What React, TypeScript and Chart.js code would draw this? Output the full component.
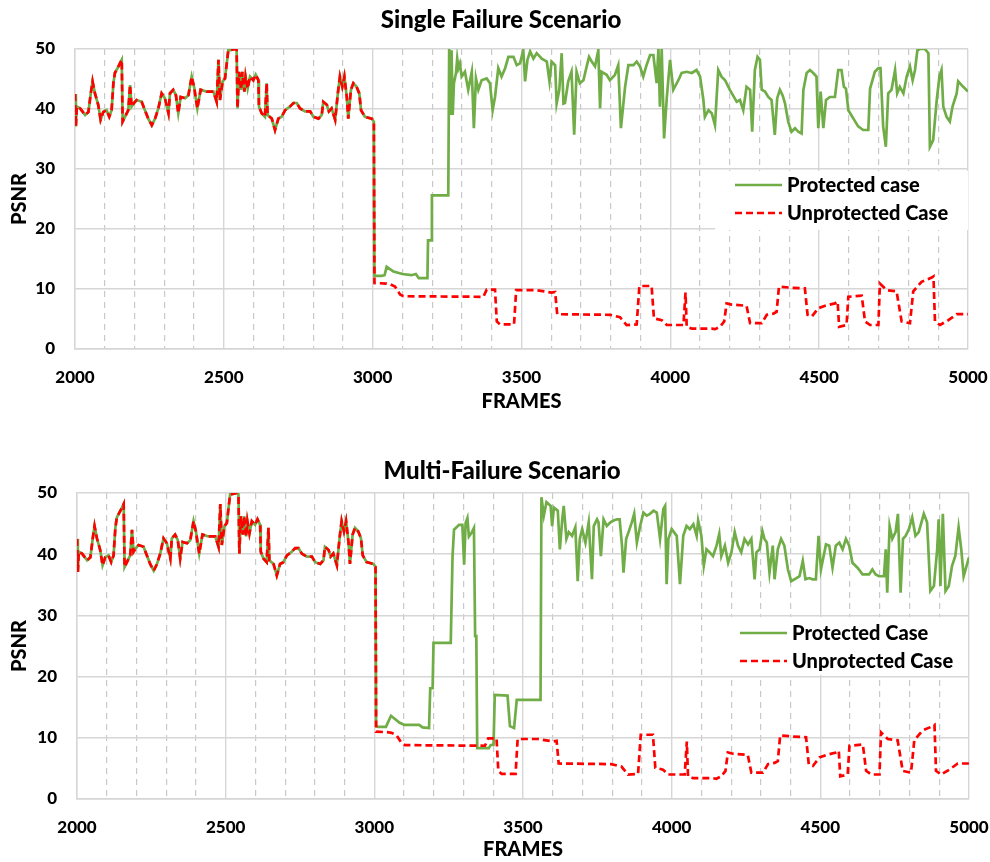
import React, { useEffect, useRef } from 'react';
import { Chart, registerables } from 'chart.js';

Chart.register(...registerables);

const FONT = 'Lato, "Open Sans", "DejaVu Sans", sans-serif';
const GREEN = '#70AD47';
const RED = '#FF0000';
const GRID = '#d6d6d6';
const MINOR_GRID = '#c9c9c9';

// ---- data: frames 2000-3000 (identical for both scenarios and both cases)
const preFrames = [
  2000, 2003, 2006, 2017, 2034, 2045, 2053, 2059, 2067, 2078,
  2086, 2095, 2106, 2115, 2123, 2129, 2134, 2146, 2157, 2160,
  2168, 2179, 2185, 2190, 2198, 2207, 2224, 2235, 2246, 2258,
  2269, 2280, 2291, 2302, 2314, 2319, 2330, 2339, 2347, 2355,
  2370, 2381, 2392, 2400, 2411, 2422, 2442, 2465, 2476, 2482,
  2487, 2496, 2504, 2515, 2521, 2538, 2543, 2546, 2551, 2558,
  2562, 2569, 2573, 2580, 2588, 2599, 2607, 2616, 2618, 2627,
  2638, 2644, 2647, 2661, 2672, 2683, 2694, 2706, 2722, 2734,
  2745, 2756, 2773, 2790, 2801, 2818, 2829, 2834, 2846, 2853,
  2862, 2874, 2883, 2890, 2898, 2905, 2913, 2918, 2927, 2935,
  2946, 2955, 2961, 2974, 2997, 3004,
];
const prePsnr = [
  42.5, 37.1, 40.4, 40.1, 39, 39.5, 42.6, 44.6, 42.6, 40.7,
  38.2, 39.5, 39.8, 38.7, 39.8, 44.3, 46, 47.1, 48.2, 37.9,
  38.7, 39.8, 44, 40.4, 41, 41.5, 41.2, 39.8, 38.4, 37.3,
  38.4, 40.1, 42.6, 41.8, 39.3, 42.6, 43.2, 42.3, 39.3, 42,
  41.8, 42.3, 45.4, 43.7, 40.1, 43.2, 42.9, 42.9, 41.2, 48.2,
  41.5, 44.6, 45.1, 49.8, 49.8, 50, 49.8, 40.1, 46.2, 43.2,
  46.2, 42.9, 45.4, 43.4, 45.4, 44.8, 45.7, 44.8, 40.4, 39.3,
  38.7, 44.3, 39, 38.4, 36.5, 38.4, 38.7, 39.8, 40.4, 41,
  41, 40.1, 39.6, 39.6, 38.7, 38.4, 39, 41.2, 40.7, 39.6,
  40.1, 38.2, 42.6, 45.4, 43.7, 45.4, 42, 38.4, 43.2, 44.3,
  43.7, 42.6, 39.8, 38.7, 38.4, 37.9,
];

// ---- unprotected case after the failure (same in both scenarios)
const unprotFrames = [
  3006, 3047, 3058, 3075, 3092, 3103, 3372, 3383, 3411, 3417,
  3428, 3475, 3482, 3551, 3601, 3613, 3620, 3797, 3831, 3853,
  3887, 3896, 3937, 3945, 3971, 3988, 4044, 4051, 4055, 4072,
  4139, 4150, 4167, 4181, 4189, 4206, 4256, 4268, 4307, 4324,
  4346, 4357, 4365, 4408, 4452, 4461, 4475, 4497, 4520, 4553,
  4562, 4567, 4592, 4598, 4643, 4654, 4671, 4699, 4704, 4727,
  4760, 4777, 4805, 4816, 4844, 4878, 4884, 4889, 4906, 4934,
  4962, 5000,
];
const unprotPsnr = [
  11, 10.9, 10.8, 10.4, 9.1, 8.8, 8.7, 9.9, 9.9, 4.6,
  4.1, 4.1, 9.8, 9.8, 9.4, 9.5, 5.8, 5.7, 5.3, 4.0,
  4.1, 10.5, 10.5, 5.1, 4.8, 4.0, 4.0, 9.4, 3.7, 3.4,
  3.4, 3.3, 3.7, 4.6, 7.6, 7.4, 7.2, 4.3, 4.3, 5.7,
  5.9, 6.2, 10.4, 10.2, 10.1, 5.7, 5.4, 6.8, 7.2, 7.6,
  7.9, 3.7, 4.0, 8.7, 8.9, 4.6, 4.0, 4.0, 10.9, 9.8,
  9.6, 4.6, 4.3, 9.6, 11.2, 11.9, 12.1, 4.6, 4.0, 4.8,
  5.8, 5.8,
];

// ---- protected case, single failure scenario
const singleProtFrames = [
  3006, 3030, 3040, 3047, 3070, 3100, 3130, 3145, 3155, 3184,
  3186, 3197, 3199, 3254, 3257, 3262, 3265, 3269, 3273, 3280,
  3284, 3288, 3293, 3299, 3310, 3321, 3333, 3340, 3347, 3355,
  3366, 3383, 3394, 3403, 3411, 3422, 3433, 3445, 3456, 3473,
  3484, 3495, 3506, 3512, 3520, 3529, 3540, 3551, 3568, 3585,
  3594, 3601, 3613, 3618, 3627, 3635, 3641, 3646, 3657, 3668,
  3677, 3685, 3696, 3708, 3719, 3727, 3736, 3747, 3758, 3764,
  3769, 3786, 3797, 3814, 3825, 3834, 3848, 3859, 3876, 3887,
  3898, 3909, 3920, 3932, 3943, 3954, 3960, 3965, 3971, 3979,
  3988, 3999, 4010, 4027, 4038, 4055, 4072, 4088, 4100, 4111,
  4116, 4128, 4139, 4150, 4161, 4172, 4184, 4200, 4223, 4234,
  4245, 4256, 4268, 4275, 4284, 4293, 4301, 4307, 4318, 4329,
  4340, 4351, 4359, 4368, 4377, 4385, 4396, 4407, 4419, 4430,
  4441, 4447, 4458, 4469, 4480, 4491, 4497, 4505, 4514, 4523,
  4536, 4553, 4564, 4575, 4583, 4590, 4598, 4615, 4631, 4648,
  4665, 4671, 4687, 4699, 4706, 4715, 4724, 4732, 4743, 4755,
  4762, 4771, 4783, 4794, 4805, 4814, 4822, 4830, 4839, 4855,
  4867, 4872, 4883, 4895, 4904, 4911, 4917, 4928, 4939, 4948,
  4962, 4967, 4984, 5000,
];
const singleProtPsnr = [
  12.2, 12.2, 12.3, 13.7, 12.9, 12.5, 12.3, 12.5, 11.8, 11.8,
  18.1, 18.1, 25.6, 25.6, 50, 39, 49.8, 39, 44.3, 46,
  48.4, 46.8, 47.6, 45.4, 46.2, 43.2, 46.2, 36.8, 45.1, 43.2,
  44.8, 45.1, 44.3, 39.8, 42, 46.8, 45.4, 46.8, 48.7, 48.7,
  47.3, 47.6, 49.8, 44.6, 48.2, 49.6, 48.4, 49.3, 48.4, 47.9,
  44.6, 47.9, 47.3, 40.9, 43.2, 49.3, 40.9, 41, 44.6, 46.2,
  35.7, 46.2, 44.3, 44.8, 47.1, 48.7, 47.9, 47.1, 49.8, 40.1,
  46.2, 45.7, 44.8, 45.7, 47.3, 36.8, 43.7, 47.3, 47.3, 47.9,
  47.1, 45.4, 47.3, 49, 49, 44.3, 50, 40.4, 50, 35.1,
  41.8, 48.2, 43.2, 44.8, 46, 46.2, 46, 46.5, 45.4, 41.5,
  38.7, 39.8, 39.3, 37.3, 46.5, 45.4, 44.8, 43.2, 41.2, 41.5,
  39.8, 43.7, 43.2, 36.2, 46.5, 48.7, 48.2, 43.2, 42.9, 42,
  41.5, 35.7, 41.8, 43.2, 42.3, 41, 37.9, 36.2, 36.8, 36.2,
  35.9, 43.2, 46, 46.5, 46, 45.4, 36.8, 42.9, 36.8, 41.5,
  42, 42, 46.5, 46.5, 43.7, 43.4, 39.8, 38.4, 37.1, 36.5,
  36.5, 43.4, 46.2, 46.8, 46.8, 37.1, 33.7, 42.6, 43.2, 46.5,
  42.6, 43.7, 42.6, 45.4, 47.1, 44.8, 46.5, 49.8, 50, 50,
  49.3, 33.7, 34.8, 41.5, 45.4, 46.5, 40.4, 38.7, 37.9, 40.4,
  42.6, 44.6, 43.7, 42.9,
];

// ---- protected case, multi-failure scenario
const multiProtFrames = [
  3006, 3012, 3039, 3056, 3084, 3101, 3151, 3162, 3184,
  3188, 3196, 3199, 3257, 3263, 3268, 3285, 3296, 3302, 3307,
  3313, 3318, 3327, 3335, 3339, 3343, 3346, 3385, 3391, 3401,
  3405, 3448, 3456, 3470, 3479, 3559, 3562, 3570, 3579, 3593,
  3598, 3604, 3617, 3624, 3632, 3637, 3646, 3654, 3665, 3676,
  3684, 3691, 3699, 3710, 3721, 3732, 3738, 3749, 3754, 3762,
  3771, 3782, 3794, 3805, 3816, 3825, 3833, 3838, 3847, 3855,
  3866, 3874, 3883, 3894, 3905, 3916, 3927, 3939, 3950, 3961,
  3972, 3978, 3983, 3989, 4000, 4017, 4028, 4039, 4050, 4061,
  4073, 4084, 4089, 4100, 4108, 4117, 4128, 4139, 4151, 4160,
  4167, 4179, 4190, 4201, 4212, 4223, 4234, 4245, 4257, 4268,
  4279, 4285, 4296, 4305, 4312, 4320, 4329, 4340, 4346, 4357,
  4368, 4379, 4391, 4402, 4413, 4430, 4441, 4450, 4463, 4474,
  4485, 4494, 4502, 4519, 4530, 4541, 4552, 4564, 4575, 4586,
  4597, 4608, 4625, 4642, 4664, 4675, 4686, 4697, 4714, 4720,
  4725, 4733, 4742, 4753, 4761, 4770, 4778, 4787, 4798, 4809,
  4820, 4831, 4848, 4859, 4870, 4882, 4893, 4898, 4904, 4912,
  4921, 4932, 4943, 4954, 4965, 4974, 4982, 5000,
];
const multiProtPsnr = [
  12, 11.8, 11.8, 13.6, 12.5, 12.1, 12.1, 11.7, 11.6,
  18.1, 18.1, 25.5, 25.5, 39.6, 44, 44.8, 44.8, 38.3, 45.1,
  45.9, 42.9, 43.5, 44.3, 26.6, 26.6, 8.3, 8.3, 8.8, 8.9,
  17, 16.9, 11.9, 11.6, 16.2, 16.2, 49.3, 46.3, 48.5, 47.9,
  44.6, 47.6, 47.1, 40.8, 45.7, 47.9, 42.5, 43.6, 43, 44.4,
  35.6, 42.5, 44.1, 41.9, 45.2, 35.9, 44.6, 45.7, 45.2, 39.7,
  45.7, 44.6, 45.2, 45.5, 45.7, 45.7, 41.4, 37, 42.5, 43.6,
  45.2, 46.6, 41.9, 44.6, 46.8, 46.3, 46.6, 47.1, 46.8, 42.5,
  47.4, 47.9, 35.1, 42.5, 44.1, 43, 35.1, 43, 44.6, 44.1,
  44.9, 43, 45.5, 43, 38.1, 40.8, 40.3, 39.7, 41.4, 43.3,
  39.7, 41.4, 38.6, 40.3, 43.6, 41.4, 40.3, 42.5, 41.6, 42.5,
  35.9, 40.3, 40.8, 43.8, 42.5, 41.9, 37, 41.4, 35.9, 40.8,
  42.5, 41.4, 37.5, 35.6, 35.9, 36.4, 38.9, 35.9, 36.1, 35.9,
  35.9, 43, 37.5, 41.6, 41.4, 37.8, 41.4, 41.9, 40.8, 42.5,
  41.4, 38.6, 37.8, 36.7, 36.7, 37.5, 36.7, 36.4, 36.4, 40.8,
  33.7, 44.6, 42.5, 43.6, 46.6, 33.7, 42.5, 43, 44.1, 46,
  43, 43.6, 46.6, 45.2, 34, 34.8, 40.8, 45.7, 34.8, 46.6,
  34, 34.8, 38.1, 39.7, 44.4, 40.8, 36.4, 39.5,
];

const xRange = [2000, 5000];
const xMajorStep = 500;
const xMinorStep = 100;
const yRange = [0, 50];
const yStep = 10;

const toPoints = (frames: number[], values: number[]) =>
  frames.map((f, i) => ({ x: f, y: values[i] }));

const insideLegend = {
  id: 'insideLegend',
  afterDraw(chart: any, _args: any, opts: any) {
    const ctx = chart.ctx as CanvasRenderingContext2D;
    ctx.save();
    ctx.fillStyle = '#ffffff';
    ctx.fillRect(opts.box[0], opts.box[1], opts.box[2], opts.box[3]);
    chart.data.datasets.forEach((ds: any, i: number) => {
      const y = opts.y + i * opts.rowGap;
      ctx.strokeStyle = ds.borderColor;
      ctx.lineWidth = ds.borderWidth;
      ctx.setLineDash(ds.borderDash || []);
      ctx.beginPath();
      ctx.moveTo(opts.x, y);
      ctx.lineTo(opts.x + opts.lineLen, y);
      ctx.stroke();
      ctx.setLineDash([]);
      ctx.fillStyle = '#000';
      ctx.font = `900 20px ${FONT}`;
      ctx.textBaseline = 'middle';
      ctx.textAlign = 'left';
      ctx.fillText(ds.label, opts.x + opts.lineLen + opts.gap, y + 1);
    });
    ctx.restore();
  },
};

type Geo = {
  height: number;
  padTop: number;
  padRight: number;
  yWidth: number;
  xHeight: number;
  xTitlePadBottom: number;
  legend: { box: number[]; x: number; y: number; rowGap: number; lineLen: number; gap: number };
};

function buildConfig(protFrames: number[], protPsnr: number[], protLabel: string, geo: Geo): any {
  return {
    type: 'line',
    data: {
      datasets: [
        {
          label: protLabel,
          data: toPoints(preFrames.concat(protFrames), prePsnr.concat(protPsnr)),
          borderColor: GREEN,
          backgroundColor: GREEN,
          borderWidth: 2.7,
          pointRadius: 0,
          tension: 0,
          fill: false,
          order: 1,
        },
        {
          label: 'Unprotected Case',
          data: toPoints(preFrames.concat(unprotFrames), prePsnr.concat(unprotPsnr)),
          borderColor: RED,
          backgroundColor: RED,
          borderWidth: 2.7,
          borderDash: [7, 4],
          pointRadius: 0,
          tension: 0,
          fill: false,
          order: 0,
        },
      ],
    },
    options: {
      responsive: false,
      animation: false,
      events: [],
      layout: { padding: { left: 0, right: geo.padRight, top: geo.padTop, bottom: 0 } },
      plugins: {
        legend: { display: false },
        tooltip: { enabled: false },
        title: { display: false },
        insideLegend: geo.legend,
      },
      scales: {
        x: {
          type: 'linear',
          position: 'bottom',
          min: xRange[0],
          max: xRange[1],
          weight: 1,
          ticks: {
            stepSize: xMajorStep,
            padding: 18.5,
            color: '#000',
            maxRotation: 0,
            autoSkip: false,
            font: { family: FONT, size: 17, weight: '900' },
            callback: (v: any) => String(v),
          },
          grid: { color: GRID, lineWidth: 1.4, drawTicks: false },
          border: { color: GRID, width: 1.4 },
          title: {
            display: true,
            text: 'FRAMES',
            color: '#000',
            font: { family: FONT, size: 20, weight: '900' },
            padding: { top: 0, bottom: geo.xTitlePadBottom },
          },
          afterFit: (s: any) => {
            s.height = geo.xHeight;
            s.paddingLeft = 0;
            s.paddingRight = 0;
          },
        },
        xMinor: {
          type: 'linear',
          position: 'bottom',
          min: xRange[0],
          max: xRange[1],
          weight: 0,
          ticks: { stepSize: xMinorStep, display: false, autoSkip: false },
          grid: {
            color: (c: any) => (c.tick && c.tick.value % xMajorStep === 0 ? 'rgba(0,0,0,0)' : MINOR_GRID),
            lineWidth: 1.2,
            drawTicks: false,
          },
          border: { display: false, dash: [6, 5] },
          afterFit: (s: any) => {
            s.height = 0;
            s.paddingLeft = 0;
            s.paddingRight = 0;
          },
        },
        y: {
          type: 'linear',
          min: yRange[0],
          max: yRange[1],
          ticks: {
            stepSize: yStep,
            padding: 20,
            color: '#000',
            font: { family: FONT, size: 17, weight: '900' },
          },
          grid: { color: GRID, lineWidth: 1.4, drawTicks: false },
          border: { color: GRID, width: 1.4 },
          title: {
            display: true,
            text: 'PSNR',
            color: '#000',
            font: { family: FONT, size: 20, weight: '900' },
            padding: { top: 8, bottom: 0 },
          },
          afterFit: (s: any) => {
            s.width = geo.yWidth;
            s.paddingTop = 0;
            s.paddingBottom = 0;
          },
        },
      },
    },
    plugins: [insideLegend],
  };
}

function ChartPanel(props: {
  top: number;
  geo: Geo;
  frames: number[];
  psnr: number[];
  label: string;
}) {
  const ref = useRef<HTMLCanvasElement | null>(null);
  useEffect(() => {
    if (!ref.current) return;
    const chart = new Chart(ref.current, buildConfig(props.frames, props.psnr, props.label, props.geo));
    return () => chart.destroy();
  }, []);
  return (
    <canvas
      ref={ref}
      width={990}
      height={props.geo.height}
      style={{ position: 'absolute', left: 0, top: props.top, width: 990, height: props.geo.height }}
    />
  );
}

const topGeo: Geo = {
  height: 420,
  padTop: 49,
  padRight: 22,
  yWidth: 75,
  xHeight: 71,
  xTitlePadBottom: 6,
  legend: { box: [715, 171, 253, 59], x: 735, y: 185, rowGap: 28, lineLen: 47, gap: 5 },
};

const bottomGeo: Geo = {
  height: 422,
  padTop: 53,
  padRight: 21,
  yWidth: 77,
  xHeight: 63,
  xTitlePadBottom: 0,
  legend: { box: [730, 177, 238, 58], x: 740, y: 193, rowGap: 28, lineLen: 47, gap: 5 },
};

const titleStyle = (top: number, centerX: number): React.CSSProperties => ({
  position: 'absolute',
  left: centerX - 200,
  width: 400,
  top,
  height: 26,
  lineHeight: '26px',
  textAlign: 'center',
  fontFamily: FONT,
  fontWeight: 900,
  fontSize: 24,
  color: '#000',
  whiteSpace: 'nowrap',
});

export default function App() {
  return (
    <div
      style={{
        position: 'absolute',
        left: 0,
        top: 0,
        width: 990,
        height: 862,
        background: '#fff',
        overflow: 'hidden',
      }}
    >
      <ChartPanel top={0} geo={topGeo} frames={singleProtFrames} psnr={singleProtPsnr} label="Protected case" />
      <ChartPanel top={440} geo={bottomGeo} frames={multiProtFrames} psnr={multiProtPsnr} label="Protected Case" />
      <div style={titleStyle(6, 501)}>Single Failure Scenario</div>
      <div style={titleStyle(457, 502)}>Multi-Failure Scenario</div>
    </div>
  );
}
